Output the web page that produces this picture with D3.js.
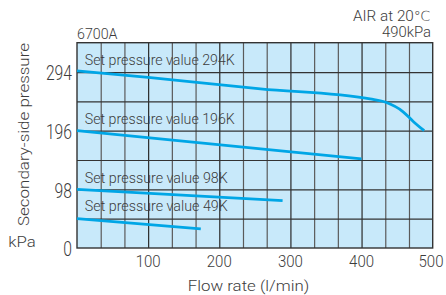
<!DOCTYPE html>
<html>
<head>
<meta charset="utf-8">
<script src="https://cdn.jsdelivr.net/npm/d3@7"></script>
<style>
  body { margin: 0; background: #fff; }
  svg text { font-family: Roboto, "DejaVu Sans", sans-serif; font-weight: 300; fill: #3c3c3c; }
</style>
</head>
<body>
<div id="chart"></div>
<script>
"use strict"

// tick labels
let xTicks = [100, 200, 300, 400, 500];
let yTicks = [0, 98, 196, 294];

// curves (flow l/min, pressure kPa)
let curve294 = [[0, 296], [100, 285], [258, 266], [412, 249], [435, 243], [458, 228], [473, 211], [488, 196]];
let curve196 = [[0, 196], [400, 149]];
let curve98 = [[0, 98], [289, 79]];
let curve49 = [[0, 49], [174, 32]];

let curveNames = ["Set pressure value 294K", "Set pressure value 196K", "Set pressure value 98K", "Set pressure value 49K"];
let labelLevels = [305.5, 208, 109, 61.5]; // kPa height of each label's baseline

let width = 446, height = 295;
let plotLeft = 77, plotRight = 432.7, plotTop = 42.7, plotBottom = 248;

let drawing = d3.select("#chart")
    .append("svg")
    .attr("width", width)
    .attr("height", height);

let x = d3.scaleLinear().domain([0, 500]).range([plotLeft, plotRight]);
let y = d3.scaleLinear().domain([0, 343]).range([plotBottom, plotTop]);

// the original font is narrow, so squeeze each text to its measured width
function label(px, py, str, size, len, anchor) {
    return drawing.append("text")
        .attr("x", px)
        .attr("y", py)
        .attr("font-size", size)
        .attr("text-anchor", anchor || "start")
        .attr("textLength", len)
        .attr("lengthAdjust", "spacingAndGlyphs")
        .text(str);
}

// plot background
drawing.append("rect")
    .attr("x", plotLeft)
    .attr("y", plotTop)
    .attr("width", plotRight - plotLeft)
    .attr("height", plotBottom - plotTop)
    .attr("fill", "#c8e9fa");

// grid: 15 columns, 7 rows
let xGrid = d3.range(1, 15).map(i => i * 500 / 15);
let yGrid = d3.range(1, 7).map(i => i * 49);

drawing.append("g")
    .attr("transform", `translate(0,${plotBottom})`)
    .call(d3.axisBottom(x).tickValues(xGrid).tickSize(-(plotBottom - plotTop)).tickFormat(""))
    .call(g => g.select(".domain").remove())
    .call(g => g.selectAll("line").attr("stroke", (d, i) => i % 3 == 2 ? "#2a2a2a" : "#5a5a5a").attr("stroke-width", 1.2));

drawing.append("g")
    .attr("transform", `translate(${plotLeft},0)`)
    .call(d3.axisLeft(y).tickValues(yGrid).tickSize(-(plotRight - plotLeft)).tickFormat(""))
    .call(g => g.select(".domain").remove())
    .call(g => g.selectAll("line").attr("stroke", "#333").attr("stroke-width", 1.2));

// frame
drawing.append("rect")
    .attr("x", plotLeft)
    .attr("y", plotTop)
    .attr("width", plotRight - plotLeft)
    .attr("height", plotBottom - plotTop)
    .attr("fill", "none")
    .attr("stroke", "#333")
    .attr("stroke-width", 1.4);

// curves
let line = d3.line().x(d => x(d[0])).y(d => y(d[1])).curve(d3.curveMonotoneX);
[curve294, curve196, curve98, curve49].forEach(c => {
    drawing.append("path")
        .attr("d", line(c))
        .attr("fill", "none")
        .attr("stroke", "#00a6e6")
        .attr("stroke-width", 2.8);
});

// curve labels
curveNames.forEach((name, i) => {
    label(x(11), y(labelLevels[i]), name, 15.5, name.length == 23 ? 150 : 143);
});

// x tick labels (last one pulled in so it stays on the page)
xTicks.forEach(v => {
    label(Math.min(x(v), 431), 266.5, String(v), 16.5, 25, "middle");
});

// y tick labels
yTicks.forEach(v => {
    let s = String(v);
    label(72, y(v) + 8.3, s, 21, s.length * 8.7, "end");
});

// titles
label(plotLeft, 39, "6700A", 15, 40.5);
label(431, 20.5, "AIR at 20℃", 14, 78, "end");
label(431, 37, "490kPa", 14.5, 49, "end");
label(248.5, 291, "Flow rate (l/min)", 15.5, 121.5, "middle");
label(22, 246.7, "kPa", 15, 27.5, "middle");

drawing.append("text")
    .attr("transform", "translate(29,134.5) rotate(-90)")
    .attr("text-anchor", "middle")
    .attr("font-size", 15.5)
    .attr("textLength", 183)
    .attr("lengthAdjust", "spacingAndGlyphs")
    .text("Secondary-side pressure");
</script>
</body>
</html>
